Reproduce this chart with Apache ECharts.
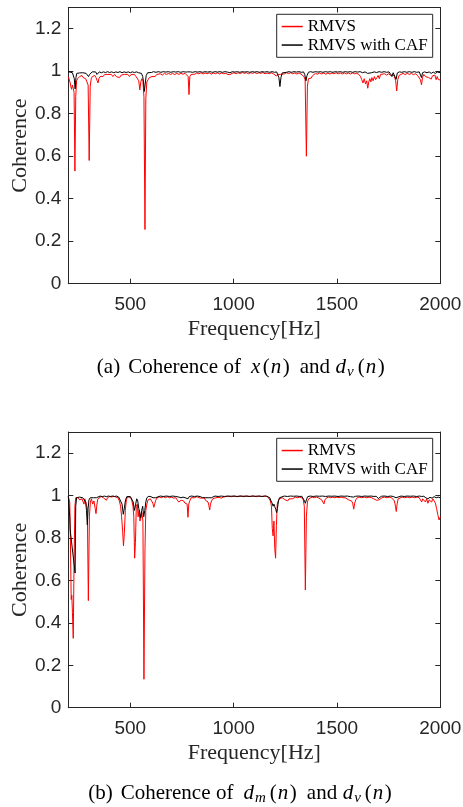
<!DOCTYPE html>
<html>
<head>
<meta charset="utf-8">
<script src="https://cdn.jsdelivr.net/npm/echarts@6/dist/echarts.min.js"></script>
<style>
html,body{margin:0;padding:0;background:#fff;}
#chart{width:463px;height:807px;}
</style>
</head>
<body>
<div id="chart"></div>
<script>
// ---- data (frequency [Hz], coherence) ----
const seriesNames = ['RMVS', 'RMVS with CAF'];
const xTicks = [500, 1000, 1500, 2000];
const yTicks = [0, 0.2, 0.4, 0.6, 0.8, 1, 1.2];

const topRMVS = [[200,0.975],[204,0.97],[208,0.95],[212,0.93],[216,0.915],[220,0.935],[224,0.92],[228,0.9],[232,0.53],[236,0.88],[240,0.955],[245,0.965],[250,0.96],[255,0.975],[260,0.97],[266,0.98],[272,0.97],[278,0.975],[284,0.965],[290,0.96],[296,0.935],[301,0.58],[306,0.93],[311,0.965],[316,0.975],[322,0.97],[328,0.98],[334,0.97],[340,0.955],[344,0.945],[348,0.965],[354,0.975],[360,0.98],[368,0.975],[376,0.985],[384,0.978],[392,0.985],[400,0.98],[408,0.985],[416,0.975],[424,0.985],[432,0.975],[440,0.98],[448,0.97],[456,0.982],[464,0.975],[472,0.985],[480,0.978],[488,0.985],[496,0.975],[504,0.985],[512,0.978],[520,0.985],[528,0.975],[535,0.97],[541,0.955],[546,0.912],[551,0.95],[556,0.965],[561,0.955],[566,0.88],[571,0.255],[575,0.87],[580,0.95],[586,0.96],[592,0.97],[598,0.965],[605,0.975],[612,0.98],[620,0.975],[628,0.985],[636,0.98],[645,0.988],[655,0.982],[665,0.99],[675,0.985],[685,0.99],[695,0.985],[705,0.99],[715,0.984],[725,0.99],[735,0.985],[745,0.99],[755,0.986],[765,0.99],[774,0.985],[780,0.975],[784,0.89],[788,0.975],[794,0.985],[802,0.99],[812,0.986],[822,0.992],[832,0.988],[842,0.993],[852,0.987],[862,0.992],[872,0.988],[882,0.993],[892,0.986],[902,0.992],[912,0.988],[922,0.993],[932,0.987],[942,0.992],[952,0.988],[962,0.99],[972,0.985],[982,0.984],[992,0.99],[1002,0.993],[1012,0.988],[1022,0.993],[1032,0.989],[1042,0.994],[1052,0.99],[1062,0.993],[1072,0.988],[1082,0.993],[1092,0.99],[1102,0.994],[1112,0.989],[1122,0.993],[1132,0.99],[1142,0.994],[1152,0.988],[1162,0.992],[1172,0.988],[1182,0.993],[1192,0.988],[1200,0.985],[1206,0.978],[1211,0.972],[1216,0.985],[1222,0.99],[1228,0.985],[1236,0.992],[1246,0.988],[1256,0.993],[1266,0.989],[1276,0.993],[1286,0.988],[1296,0.992],[1306,0.987],[1316,0.992],[1326,0.987],[1334,0.982],[1340,0.975],[1346,0.96],[1352,0.6],[1357,0.93],[1362,0.965],[1368,0.972],[1375,0.968],[1381,0.978],[1388,0.985],[1396,0.99],[1406,0.986],[1416,0.992],[1426,0.987],[1436,0.992],[1446,0.986],[1456,0.991],[1466,0.987],[1476,0.992],[1486,0.988],[1496,0.993],[1506,0.988],[1516,0.992],[1526,0.987],[1536,0.992],[1546,0.988],[1556,0.992],[1566,0.987],[1576,0.992],[1586,0.988],[1596,0.99],[1606,0.985],[1614,0.975],[1620,0.96],[1626,0.945],[1632,0.965],[1638,0.94],[1644,0.955],[1649,0.92],[1654,0.95],[1659,0.965],[1664,0.95],[1669,0.97],[1675,0.955],[1681,0.975],[1687,0.96],[1693,0.97],[1699,0.98],[1705,0.965],[1711,0.985],[1720,0.98],[1730,0.988],[1740,0.982],[1750,0.988],[1760,0.98],[1770,0.985],[1778,0.975],[1784,0.955],[1789,0.907],[1794,0.96],[1800,0.98],[1810,0.985],[1820,0.99],[1830,0.984],[1840,0.99],[1850,0.985],[1860,0.99],[1870,0.984],[1880,0.988],[1890,0.98],[1898,0.975],[1904,0.96],[1909,0.936],[1914,0.97],[1920,0.985],[1928,0.975],[1936,0.982],[1944,0.97],[1950,0.975],[1956,0.963],[1962,0.978],[1968,0.97],[1974,0.982],[1980,0.96],[1985,0.975],[1990,0.962],[1995,0.97],[2000,0.958]];

const topCAF = [[200,0.998],[205,0.992],[210,0.995],[215,0.988],[220,0.993],[225,0.985],[229,0.965],[233,0.917],[237,0.97],[241,0.99],[247,0.996],[254,0.992],[262,0.997],[270,0.993],[278,0.997],[286,0.99],[292,0.985],[298,0.975],[303,0.985],[309,0.993],[316,0.997],[324,0.993],[332,0.997],[339,0.985],[344,0.99],[350,0.997],[360,0.993],[370,0.997],[380,0.994],[390,0.998],[400,0.994],[410,0.997],[420,0.993],[430,0.997],[440,0.994],[450,0.998],[460,0.993],[470,0.997],[480,0.994],[490,0.997],[500,0.993],[510,0.997],[520,0.994],[530,0.997],[540,0.993],[548,0.985],[554,0.99],[560,0.975],[564,0.95],[568,0.905],[572,0.94],[577,0.98],[584,0.993],[592,0.997],[602,0.994],[612,0.998],[624,0.995],[636,0.998],[648,0.995],[660,0.998],[672,0.996],[684,0.998],[696,0.995],[708,0.998],[720,0.996],[732,0.998],[744,0.995],[756,0.998],[768,0.996],[778,0.997],[784,0.99],[790,0.997],[802,0.995],[814,0.998],[826,0.996],[838,0.998],[850,0.995],[862,0.998],[874,0.996],[886,0.998],[898,0.995],[910,0.998],[922,0.996],[934,0.998],[946,0.995],[958,0.998],[970,0.996],[982,0.993],[994,0.998],[1006,0.996],[1018,0.998],[1030,0.995],[1042,0.998],[1054,0.996],[1066,0.998],[1078,0.995],[1090,0.998],[1102,0.996],[1114,0.998],[1126,0.995],[1138,0.998],[1150,0.996],[1162,0.998],[1174,0.995],[1186,0.998],[1198,0.995],[1208,0.997],[1214,0.99],[1219,0.97],[1224,0.928],[1229,0.97],[1235,0.992],[1244,0.997],[1256,0.995],[1268,0.998],[1280,0.995],[1292,0.998],[1304,0.996],[1316,0.998],[1328,0.995],[1338,0.997],[1344,0.985],[1350,0.955],[1355,0.98],[1362,0.995],[1372,0.998],[1384,0.995],[1396,0.998],[1408,0.996],[1420,0.998],[1432,0.995],[1444,0.998],[1456,0.996],[1468,0.998],[1480,0.995],[1492,0.998],[1504,0.996],[1516,0.998],[1528,0.995],[1540,0.998],[1552,0.996],[1564,0.998],[1576,0.995],[1588,0.998],[1600,0.996],[1612,0.998],[1624,0.993],[1636,0.997],[1648,0.99],[1656,0.996],[1668,0.993],[1680,0.997],[1692,0.994],[1704,0.998],[1716,0.995],[1728,0.998],[1740,0.995],[1752,0.997],[1760,0.985],[1766,0.975],[1772,0.993],[1780,0.99],[1786,0.962],[1792,0.992],[1802,0.997],[1814,0.995],[1826,0.998],[1838,0.995],[1850,0.998],[1862,0.995],[1874,0.998],[1886,0.995],[1898,0.997],[1904,0.99],[1909,0.97],[1914,0.993],[1924,0.997],[1936,0.993],[1946,0.997],[1956,0.99],[1966,0.996],[1976,0.99],[1986,0.996],[2000,0.993]];

const botRMVS = [[200,0.995],[204,0.99],[207,0.97],[210,0.8],[214,0.51],[217,0.53],[220,0.45],[224,0.327],[228,0.7],[232,0.95],[236,0.99],[242,0.995],[248,0.99],[254,0.98],[260,0.975],[266,0.985],[272,0.97],[276,0.96],[280,0.985],[286,0.98],[292,0.94],[297,0.505],[302,0.9],[307,0.97],[312,0.985],[318,0.96],[324,0.975],[330,0.94],[334,0.915],[338,0.955],[343,0.985],[350,0.993],[360,0.996],[370,0.99],[378,0.985],[384,0.978],[390,0.99],[400,0.996],[410,0.993],[420,0.997],[430,0.993],[440,0.99],[447,0.975],[453,0.95],[458,0.9],[463,0.83],[467,0.763],[471,0.82],[476,0.93],[481,0.98],[487,0.995],[495,0.993],[502,0.99],[508,0.975],[513,0.95],[517,0.9],[521,0.705],[525,0.78],[529,0.95],[534,0.96],[538,0.9],[542,0.93],[547,0.88],[551,0.9],[556,0.92],[561,0.88],[566,0.134],[571,0.75],[575,0.93],[580,0.96],[586,0.98],[591,0.975],[597,0.985],[603,0.978],[609,0.965],[614,0.945],[618,0.96],[623,0.978],[630,0.99],[640,0.994],[650,0.99],[660,0.995],[670,0.99],[680,0.995],[690,0.99],[700,0.993],[710,0.988],[720,0.99],[728,0.985],[734,0.97],[740,0.965],[746,0.978],[752,0.972],[758,0.975],[764,0.965],[770,0.958],[775,0.96],[779,0.898],[783,0.96],[788,0.975],[794,0.99],[802,0.995],[812,0.99],[822,0.995],[832,0.99],[842,0.988],[850,0.985],[858,0.99],[864,0.978],[870,0.985],[876,0.97],[880,0.955],[884,0.932],[888,0.96],[893,0.975],[899,0.985],[906,0.98],[914,0.99],[922,0.985],[930,0.992],[940,0.988],[950,0.993],[960,0.995],[975,0.997],[990,0.995],[1005,0.998],[1020,0.995],[1035,0.998],[1050,0.995],[1065,0.998],[1080,0.996],[1095,0.998],[1110,0.995],[1125,0.998],[1140,0.996],[1155,0.998],[1165,0.995],[1172,0.99],[1178,0.975],[1183,0.95],[1187,0.846],[1191,0.81],[1195,0.88],[1199,0.75],[1203,0.705],[1207,0.86],[1211,0.96],[1216,0.975],[1221,0.985],[1228,0.98],[1235,0.99],[1242,0.985],[1250,0.98],[1256,0.985],[1262,0.975],[1268,0.985],[1276,0.99],[1284,0.985],[1292,0.99],[1300,0.993],[1310,0.99],[1320,0.993],[1330,0.99],[1337,0.98],[1342,0.95],[1347,0.555],[1352,0.9],[1357,0.97],[1363,0.985],[1370,0.99],[1380,0.993],[1390,0.99],[1400,0.993],[1410,0.99],[1418,0.985],[1426,0.98],[1432,0.975],[1437,0.961],[1442,0.98],[1450,0.99],[1460,0.993],[1470,0.99],[1480,0.993],[1490,0.99],[1500,0.993],[1510,0.99],[1520,0.993],[1530,0.99],[1540,0.99],[1548,0.985],[1556,0.98],[1564,0.982],[1570,0.975],[1576,0.965],[1581,0.936],[1586,0.965],[1591,0.98],[1598,0.99],[1608,0.993],[1620,0.99],[1632,0.993],[1644,0.99],[1656,0.993],[1668,0.99],[1678,0.985],[1686,0.98],[1692,0.978],[1698,0.975],[1704,0.98],[1710,0.985],[1718,0.99],[1730,0.993],[1742,0.99],[1754,0.993],[1764,0.99],[1772,0.985],[1778,0.975],[1783,0.95],[1787,0.925],[1791,0.96],[1796,0.985],[1804,0.99],[1816,0.993],[1828,0.99],[1840,0.993],[1852,0.99],[1864,0.993],[1876,0.99],[1888,0.993],[1898,0.99],[1904,0.985],[1910,0.97],[1915,0.985],[1922,0.98],[1928,0.97],[1934,0.985],[1940,0.964],[1946,0.98],[1952,0.984],[1958,0.97],[1964,0.985],[1970,0.975],[1976,0.965],[1982,0.94],[1988,0.91],[1994,0.885],[2000,0.9]];

const botCAF = [[200,0.997],[204,0.99],[207,0.9],[209,0.838],[233,0.635],[236,0.95],[240,0.99],[246,0.997],[254,0.993],[262,0.997],[270,0.99],[278,0.985],[284,0.97],[288,0.93],[292,0.862],[296,0.94],[300,0.98],[306,0.99],[314,0.995],[322,0.99],[330,0.985],[336,0.99],[344,0.996],[354,0.998],[364,0.995],[374,0.998],[384,0.995],[394,0.998],[404,0.996],[414,0.998],[424,0.996],[434,0.998],[444,0.993],[452,0.985],[460,0.96],[466,0.912],[471,0.94],[477,0.98],[483,0.995],[491,0.998],[500,0.996],[508,0.99],[514,0.97],[520,0.93],[526,0.96],[531,0.985],[536,0.975],[541,0.94],[546,0.92],[551,0.896],[555,0.93],[560,0.95],[565,0.9],[570,0.93],[575,0.97],[580,0.99],[590,0.997],[600,0.995],[610,0.99],[616,0.985],[622,0.99],[630,0.997],[645,0.998],[660,0.996],[675,0.998],[690,0.996],[705,0.998],[720,0.996],[735,0.993],[745,0.99],[755,0.993],[765,0.99],[772,0.993],[779,0.985],[785,0.995],[795,0.998],[810,0.996],[825,0.998],[840,0.995],[850,0.99],[858,0.995],[866,0.99],[874,0.993],[880,0.99],[886,0.985],[892,0.99],[900,0.995],[910,0.998],[925,0.996],[940,0.998],[955,0.996],[970,0.998],[985,0.997],[1000,0.998],[1015,0.996],[1030,0.998],[1045,0.997],[1060,0.998],[1075,0.996],[1090,0.998],[1105,0.997],[1120,0.998],[1135,0.996],[1150,0.998],[1160,0.997],[1168,0.995],[1175,0.99],[1181,0.975],[1186,0.965],[1191,0.95],[1195,0.96],[1199,0.948],[1204,0.935],[1208,0.92],[1212,0.94],[1217,0.975],[1222,0.99],[1230,0.997],[1245,0.998],[1260,0.996],[1275,0.998],[1290,0.997],[1305,0.998],[1320,0.996],[1330,0.997],[1338,0.99],[1343,0.975],[1347,0.964],[1352,0.98],[1358,0.995],[1370,0.998],[1385,0.996],[1400,0.998],[1415,0.997],[1430,0.998],[1445,0.996],[1460,0.998],[1475,0.997],[1490,0.998],[1505,0.996],[1520,0.998],[1535,0.997],[1550,0.998],[1565,0.995],[1580,0.993],[1590,0.997],[1605,0.998],[1620,0.996],[1635,0.998],[1650,0.997],[1665,0.998],[1680,0.996],[1690,0.997],[1696,0.99],[1700,0.986],[1705,0.993],[1715,0.997],[1730,0.998],[1745,0.996],[1760,0.998],[1772,0.996],[1780,0.997],[1786,0.99],[1790,0.988],[1795,0.996],[1810,0.998],[1825,0.996],[1840,0.998],[1855,0.997],[1870,0.998],[1885,0.996],[1900,0.998],[1910,0.996],[1920,0.997],[1930,0.99],[1940,0.985],[1950,0.992],[1960,0.988],[1970,0.995],[1980,0.99],[1990,0.993],[2000,0.99]];

// ---- chart ----
const AX = '#262626';
const SANS = '"Liberation Sans", Helvetica, Arial, sans-serif';
const SERIF = '"Liberation Serif", "Times New Roman", serif';
const grids = [
  {left: 68.3, top: 7.5, width: 372, height: 276.2, outerBoundsMode: 'none', containLabel: false},
  {left: 68.3, top: 432, width: 372, height: 275.7, outerBoundsMode: 'none', containLabel: false}
];
const fmt = v => String(v);

function xAx(g, pos) {
  return {
    type: 'value', gridIndex: g, position: pos, min: 200, max: 2000,
    name: pos === 'bottom' ? 'Frequency[Hz]' : '',
    nameLocation: 'middle', nameGap: 35, nameMoveOverlap: false,
    nameTextStyle: {fontFamily: SERIF, fontSize: 22, color: AX},
    axisLine: {show: true, onZero: false, lineStyle: {color: AX, width: 1}},
    axisTick: {show: true, inside: true, length: 5, customValues: xTicks, lineStyle: {color: AX, width: 1}},
    axisLabel: {show: pos === 'bottom', customValues: xTicks, formatter: fmt, margin: 12, hideOverlap: false,
      fontFamily: SANS, fontSize: 19, color: AX},
    splitLine: {show: false}
  };
}
function yAx(g, pos) {
  return {
    type: 'value', gridIndex: g, position: pos, min: 0, max: 1.3,
    name: pos === 'left' ? 'Coherence' : '',
    nameLocation: 'middle', nameGap: 37, nameRotate: 90, nameMoveOverlap: false,
    nameTextStyle: {fontFamily: SERIF, fontSize: 22, color: AX},
    axisLine: {show: true, onZero: false, lineStyle: {color: AX, width: 1}},
    axisTick: {show: true, inside: true, length: 5, customValues: yTicks, lineStyle: {color: AX, width: 1}},
    axisLabel: {show: pos === 'left', customValues: yTicks, formatter: fmt, margin: 7,
      fontFamily: SANS, fontSize: 19, color: AX},
    splitLine: {show: false}
  };
}
function legendAt(top) {
  return {
    data: seriesNames, orient: 'vertical', left: 276.7, top: top,
    padding: [3, 5, 3, 5], itemGap: 0, itemWidth: 21, itemHeight: 1.5, icon: 'rect',
    backgroundColor: '#fff', borderColor: AX, borderWidth: 1, borderRadius: 0,
    selectedMode: false,
    textStyle: {fontFamily: SERIF, fontSize: 17, color: '#000', lineHeight: 18.5}
  };
}
function line(name, data, axIdx, color) {
  return {
    name: name, type: 'line', data: data, xAxisIndex: axIdx, yAxisIndex: axIdx,
    showSymbol: false, symbol: 'none', animation: false,
    lineStyle: {color: color, width: 1}, itemStyle: {color: color}
  };
}
const base = {fontFamily: SERIF, fontSize: 21, lineHeight: 26, fill: '#000'};
const capRich = {
  n:  Object.assign({}, base),
  w1: Object.assign({}, base, {padding: [0, 0, 0, 8]}),
  w2: Object.assign({}, base, {padding: [0, 0, 0, 5.5]}),
  w3: Object.assign({}, base, {padding: [0, 0, 0, 10]}),
  mi: Object.assign({}, base, {fontStyle: 'italic', padding: [0, 0.5, 0, 10]}),
  md: Object.assign({}, base, {fontStyle: 'italic', padding: [0, 0.5, 0, 5.5]}),
  i:  Object.assign({}, base, {fontStyle: 'italic', padding: [0, 0.5, 0, 0.5]}),
  pl: Object.assign({}, base, {padding: [0, 0.5, 0, 2]}),
  pr: Object.assign({}, base, {padding: [0, 0, 0, 1]}),
  s:  {fontFamily: SERIF, fontSize: 15, fontStyle: 'italic', lineHeight: 14, verticalAlign: 'bottom', fill: '#000', padding: [0, 2, 0, 0.5]}
};
const chart = echarts.init(document.getElementById('chart'), null, {renderer: 'canvas'});
chart.setOption({
  animation: false,
  backgroundColor: '#fff',
  grid: grids,
  xAxis: [xAx(0, 'bottom'), xAx(0, 'top'), xAx(1, 'bottom'), xAx(1, 'top')],
  yAxis: [yAx(0, 'left'), yAx(0, 'right'), yAx(1, 'left'), yAx(1, 'right')],
  legend: [legendAt(14.3), legendAt(438.3)],
  series: [
    line(seriesNames[0], topRMVS, 0, '#ff0000'),
    line(seriesNames[1], topCAF, 0, '#000000'),
    line(seriesNames[0], botRMVS, 2, '#ff0000'),
    line(seriesNames[1], botCAF, 2, '#000000')
  ],
  graphic: [
    {type: 'text', x: 240.8, y: 367, style: {
      text: '{n|(a)}{w1|Coherence}{w2|of}{mi|x}{pl|(}{i|n}{pr|)}{w3|and}{md|d}{s|v}{pl|(}{i|n}{pr|)}',
      rich: capRich, align: 'center', verticalAlign: 'middle'}},
    {type: 'text', x: 240, y: 793, style: {
      text: '{n|(b)}{w1|Coherence}{w2|of}{mi|d}{s|m}{pl|(}{i|n}{pr|)}{w3|and}{md|d}{s|v}{pl|(}{i|n}{pr|)}',
      rich: capRich, align: 'center', verticalAlign: 'middle'}}
  ]
});
</script>
</body>
</html>
